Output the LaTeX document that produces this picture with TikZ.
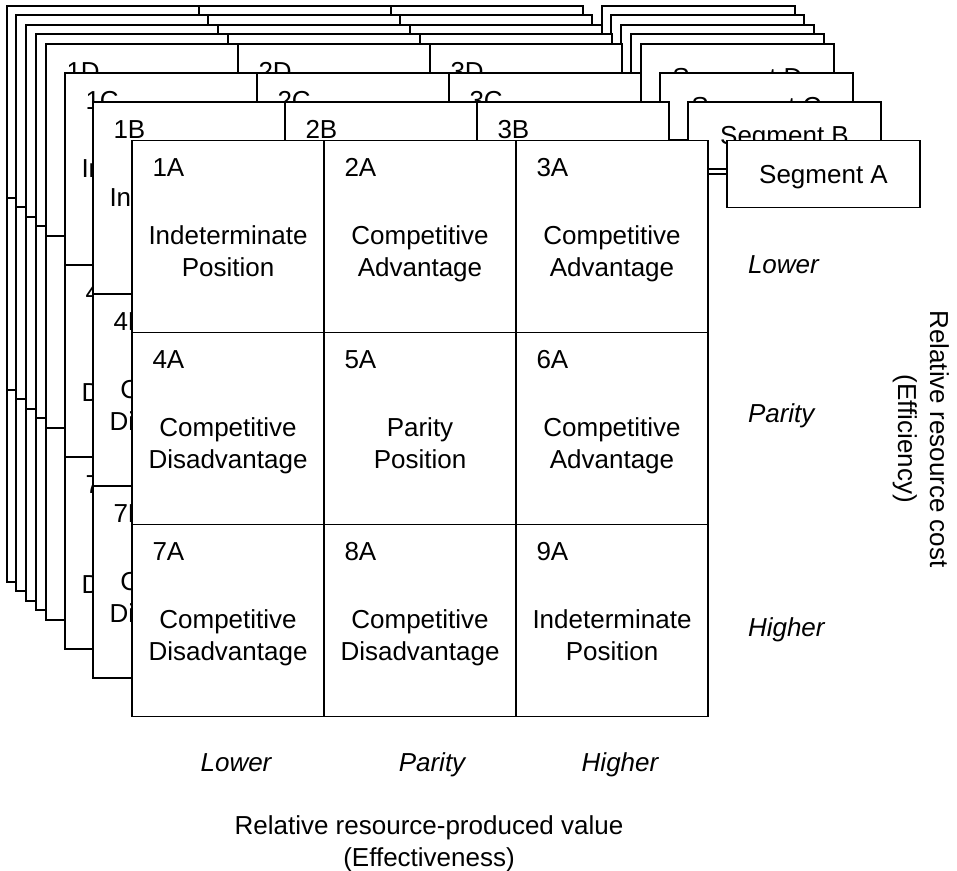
\documentclass[tikz,border=0pt]{standalone}
\usepackage{fontspec}
\setmainfont{Liberation Sans}
\usetikzlibrary{calc}

% type sizes: 26pt body on a 32pt line
\newcommand\mainfnt{\fontsize{26}{32}\selectfont}
% two centred lines whose reference point is the first baseline
\newcommand\twolines[2]{\begin{tabular}[t]{@{}c@{}}#1\\#2\end{tabular}}

% one 3x3 grid with its segment box; #1 left, #2 top, #3 name, #4 segment text
\newcommand\drawlayer[4]{%
  \node[gridbox] (grid-#3) at (#1,#2) {};
  \foreach \i in {1,2} {
    \draw (#1+\i*192,#2) -- (#1+\i*192,#2+576);
    \draw (#1,#2+\i*192) -- (#1+576,#2+\i*192);
  }
  \node[segbox] (seg-#3) at (#1+595,#2) {#4};
}

% cell numbers and cell texts of one grid; #1 left, #2 top, #3 letter
\newcommand\layertext[3]{%
  \foreach \k/\ta/\tb in {1/Indeterminate/Position,
                          2/Competitive/Advantage,
                          3/Competitive/Advantage,
                          4/Competitive/Disadvantage,
                          5/Parity/Position,
                          6/Competitive/Advantage,
                          7/Competitive/Disadvantage,
                          8/Competitive/Disadvantage,
                          9/Indeterminate/Position} {
    \pgfmathtruncatemacro\colidx{mod(\k-1,3)}
    \pgfmathtruncatemacro\rowidx{(\k-1)/3}
    \node[cellnum] (num-\k#3) at (#1+\colidx*192+20.5, #2+\rowidx*192+36) {\k#3};
    \node[celltext] (txt-\k#3) at (#1+\colidx*192+96, #2+\rowidx*192+104) {\twolines{\ta}{\tb}};
  }
}

\begin{document}
\begin{tikzpicture}[x=1pt, y=-1pt,
  line width=1.9pt,
  every node/.style={inner sep=0pt, outer sep=0pt, font=\mainfnt},
  gridbox/.style={draw, fill=white, anchor=north west,
                  minimum width=576pt, minimum height=576pt},
  segbox/.style={draw, fill=white, anchor=north west,
                 minimum width=193pt, minimum height=67pt,
                 text height=18.6pt, text depth=0pt},
  cellnum/.style={anchor=base west},
  celltext/.style={anchor=base},
  levellabel/.style={anchor=base, font=\mainfnt\itshape},
  rowlabel/.style={anchor=base west, font=\mainfnt\itshape},
  axistitle/.style={anchor=base}]

\useasboundingbox (0,0) rectangle (957,870);

% stacked segment grids, drawn from the back to the front
\drawlayer{6.7}{5.8}{h}{}
\drawlayer{16.4}{15.2}{g}{}
\drawlayer{26.1}{24.6}{f}{}
\drawlayer{35.7}{33.9}{e}{}
\drawlayer{46}{44}{D}{Segment D}
\layertext{46}{44}{D}
\drawlayer{65}{73}{C}{Segment C}
\layertext{65}{73}{C}
\drawlayer{93}{102}{B}{Segment B}
\layertext{93}{102}{B}
\drawlayer{132}{140.5}{A}{Segment A}
\layertext{132}{140.5}{A}

% link from the front grid to its segment box
\draw (seg-A.west) -- (seg-A.west -| grid-A.east);

% horizontal axis
\node[levellabel] (vlow)  at (236,771) {Lower};
\node[levellabel] (vpar)  at (432,771) {Parity};
\node[levellabel] (vhigh) at (620,771) {Higher};
\node[axistitle] (vtitle) at (429,834)
  {\twolines{Relative resource-produced value}{(Effectiveness)}};

% vertical axis
\node[rowlabel] (clow)  at (748,273) {Lower};
\node[rowlabel] (cpar)  at (748,422) {Parity};
\node[rowlabel] (chigh) at (748,636) {Higher};
\node[axistitle, rotate=-90] (ctitle) at (930,439)
  {\twolines{Relative resource cost}{(Efficiency)}};

\end{tikzpicture}
\end{document}
